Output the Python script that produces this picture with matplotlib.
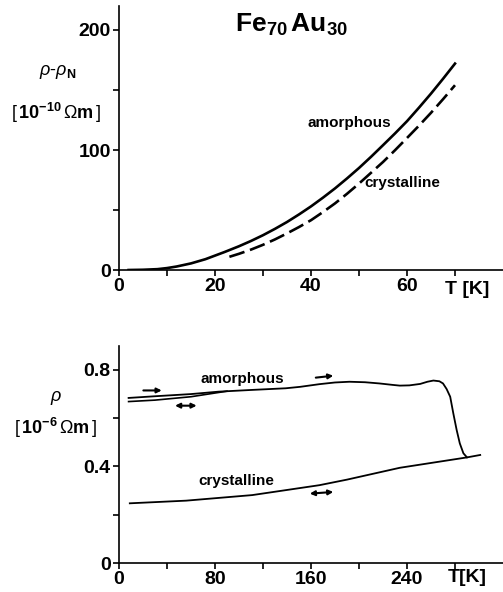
import numpy as np
import matplotlib.pyplot as plt

plt.rcParams['font.family'] = 'Liberation Sans'
plt.rcParams['mathtext.fontset'] = 'custom'
plt.rcParams['mathtext.rm'] = 'Liberation Sans'
plt.rcParams['mathtext.bf'] = 'Liberation Sans:bold'
plt.rcParams['mathtext.it'] = 'Liberation Sans:italic'

# ---- top panel data: rho - rho_N [1e-10 Ohm m] vs T [K]
T_am_low = [2, 5, 8, 10, 12, 15, 18, 20, 22, 25, 27.5, 30, 32.5, 35, 37.5, 40,
            42.5, 45, 47.5, 50, 52.5, 55, 57.5, 60, 62.5, 65, 67.5, 70]
rho_am_low = [0, 0.2, 0.7, 1.6, 2.9, 5.5, 9, 12, 15, 19.8, 24.2, 29, 34.3, 40,
              46.3, 53, 60.3, 68, 76.3, 85, 94.3, 104, 113.8, 124, 135.3, 147,
              159.3, 172]
T_cr_low = [23, 25, 27.5, 30, 32.5, 35, 37.5, 40, 42.5, 45, 47.5, 50, 52.5, 55,
            57.5, 60, 62.5, 65, 67.5, 70]
rho_cr_low = [11, 13.5, 17, 21, 25.5, 30.5, 35.8, 41.5, 48.3, 55.5, 63.5, 72, 81,
              90, 99.8, 110, 120.3, 131, 142.3, 154]

# ---- bottom panel data: rho [1e-6 Ohm m] vs T [K]
T_am = [8, 30, 60, 83, 110, 139, 151, 167, 180, 192, 205, 217, 228, 234, 242,
        251, 257, 262, 267, 270, 273, 276, 278.6, 281.4, 284, 287, 290]
rho_am = [0.683, 0.690, 0.699, 0.709, 0.716, 0.723, 0.729, 0.740, 0.747, 0.750,
          0.748, 0.743, 0.737, 0.734, 0.735, 0.741, 0.750, 0.755, 0.752, 0.743,
          0.72, 0.688, 0.619, 0.55, 0.495, 0.454, 0.437]
T_am_back = [8, 30, 60, 90]
rho_am_back = [0.668, 0.674, 0.688, 0.711]
T_cr = [9, 56, 111, 167, 190, 234, 290, 301]
rho_cr = [0.247, 0.258, 0.281, 0.322, 0.345, 0.394, 0.437, 0.447]

W, H = 503, 592
fig = plt.figure(figsize=(W / 100, H / 100), dpi=100)

def px_axes(left, top, right, bottom):
    return fig.add_axes([left / W, 1 - bottom / H, (right - left) / W, (bottom - top) / H])

def style(ax):
    for s in ['top', 'right']:
        ax.spines[s].set_visible(False)
    for s in ['left', 'bottom']:
        ax.spines[s].set_linewidth(1.2)
    ax.tick_params(which='both', direction='out', length=4, width=1.2,
                   labelsize=14, pad=2)
    for lab in ax.get_xticklabels() + ax.get_yticklabels():
        lab.set_fontweight('bold')

# ---------------- top
ax1 = px_axes(119, 6, 503, 270)
ax1.plot(T_am_low, rho_am_low, color='black', lw=1.9)
ax1.plot(T_cr_low, rho_cr_low, color='black', lw=1.9, dashes=(6, 2.2))
ax1.set_xlim(0, 80)
ax1.set_ylim(0, 220)
ax1.set_xticks([0, 20, 40, 60])
ax1.set_xticks([10, 30, 50, 70], minor=True)
ax1.set_yticks([0, 100, 200])
ax1.set_yticks([50, 150], minor=True)
style(ax1)
ax1.text(39.2, 122.5, 'amorphous', fontsize=11, fontweight='bold', va='center')
ax1.text(51.2, 72.5, 'crystalline', fontsize=11, fontweight='bold', va='center')
ax1.text(36, 204, r'$\mathbf{Fe}_{\mathbf{70}}\,\mathbf{Au}_{\mathbf{30}}$',
         fontsize=19, ha='center', va='center')

fig.text(58 / W, 1 - 72 / H, r'$\rho$-$\rho_{\mathbf{N}}$', fontsize=13,
         ha='center', va='center')
fig.text(56 / W, 1 - 113 / H, r'$[\,\mathbf{10^{-10}}\,\Omega\mathbf{m}\,]$',
         fontsize=13, ha='center', va='center')
fig.text(467 / W, 1 - 290 / H, 'T [K]', fontsize=14, fontweight='bold',
         ha='center', va='center')

# ---------------- bottom
ax2 = px_axes(119, 345.5, 503, 563)
ax2.plot(T_am, rho_am, color='black', lw=1.3)
ax2.plot(T_am_back, rho_am_back, color='black', lw=1.2)
ax2.plot(T_cr, rho_cr, color='black', lw=1.3)
ax2.set_xlim(0, 320)
ax2.set_ylim(0, 0.9)
ax2.set_xticks([0, 80, 160, 240])
ax2.set_xticklabels(['0', '80', '160', '240'])
ax2.set_xticks([40, 120, 200, 280], minor=True)
ax2.set_yticks([0, 0.4, 0.8])
ax2.set_yticklabels(['0', '0.4', '0.8'])
ax2.set_yticks([0.2, 0.6], minor=True)
style(ax2)
ax2.text(103, 0.76, 'amorphous', fontsize=11, fontweight='bold', ha='center', va='center')
ax2.text(98, 0.338, 'crystalline', fontsize=11, fontweight='bold', ha='center', va='center')

arr = dict(color='black', lw=1.5, mutation_scale=7, shrinkA=0, shrinkB=0)
ax2.annotate('', xy=(35.6, 0.714), xytext=(20.3, 0.714), arrowprops=dict(arrowstyle='-|>', **arr))
ax2.annotate('', xy=(64.7, 0.651), xytext=(46.7, 0.651), arrowprops=dict(arrowstyle='<|-|>', **arr))
ax2.annotate('', xy=(178.6, 0.775), xytext=(164, 0.767), arrowprops=dict(arrowstyle='-|>', **arr))
ax2.annotate('', xy=(178.6, 0.294), xytext=(159, 0.287), arrowprops=dict(arrowstyle='<|-|>', **arr))

fig.text(56 / W, 1 - 398 / H, r'$\rho$', fontsize=13, ha='center', va='center')
fig.text(55 / W, 1 - 428 / H, r'$[\,\mathbf{10^{-6}}\,\Omega\mathbf{m}\,]$',
         fontsize=13, ha='center', va='center')
fig.text(467 / W, 1 - 578 / H, 'T[K]', fontsize=14, fontweight='bold',
         ha='center', va='center')

fig.savefig('out.png', dpi=100)
